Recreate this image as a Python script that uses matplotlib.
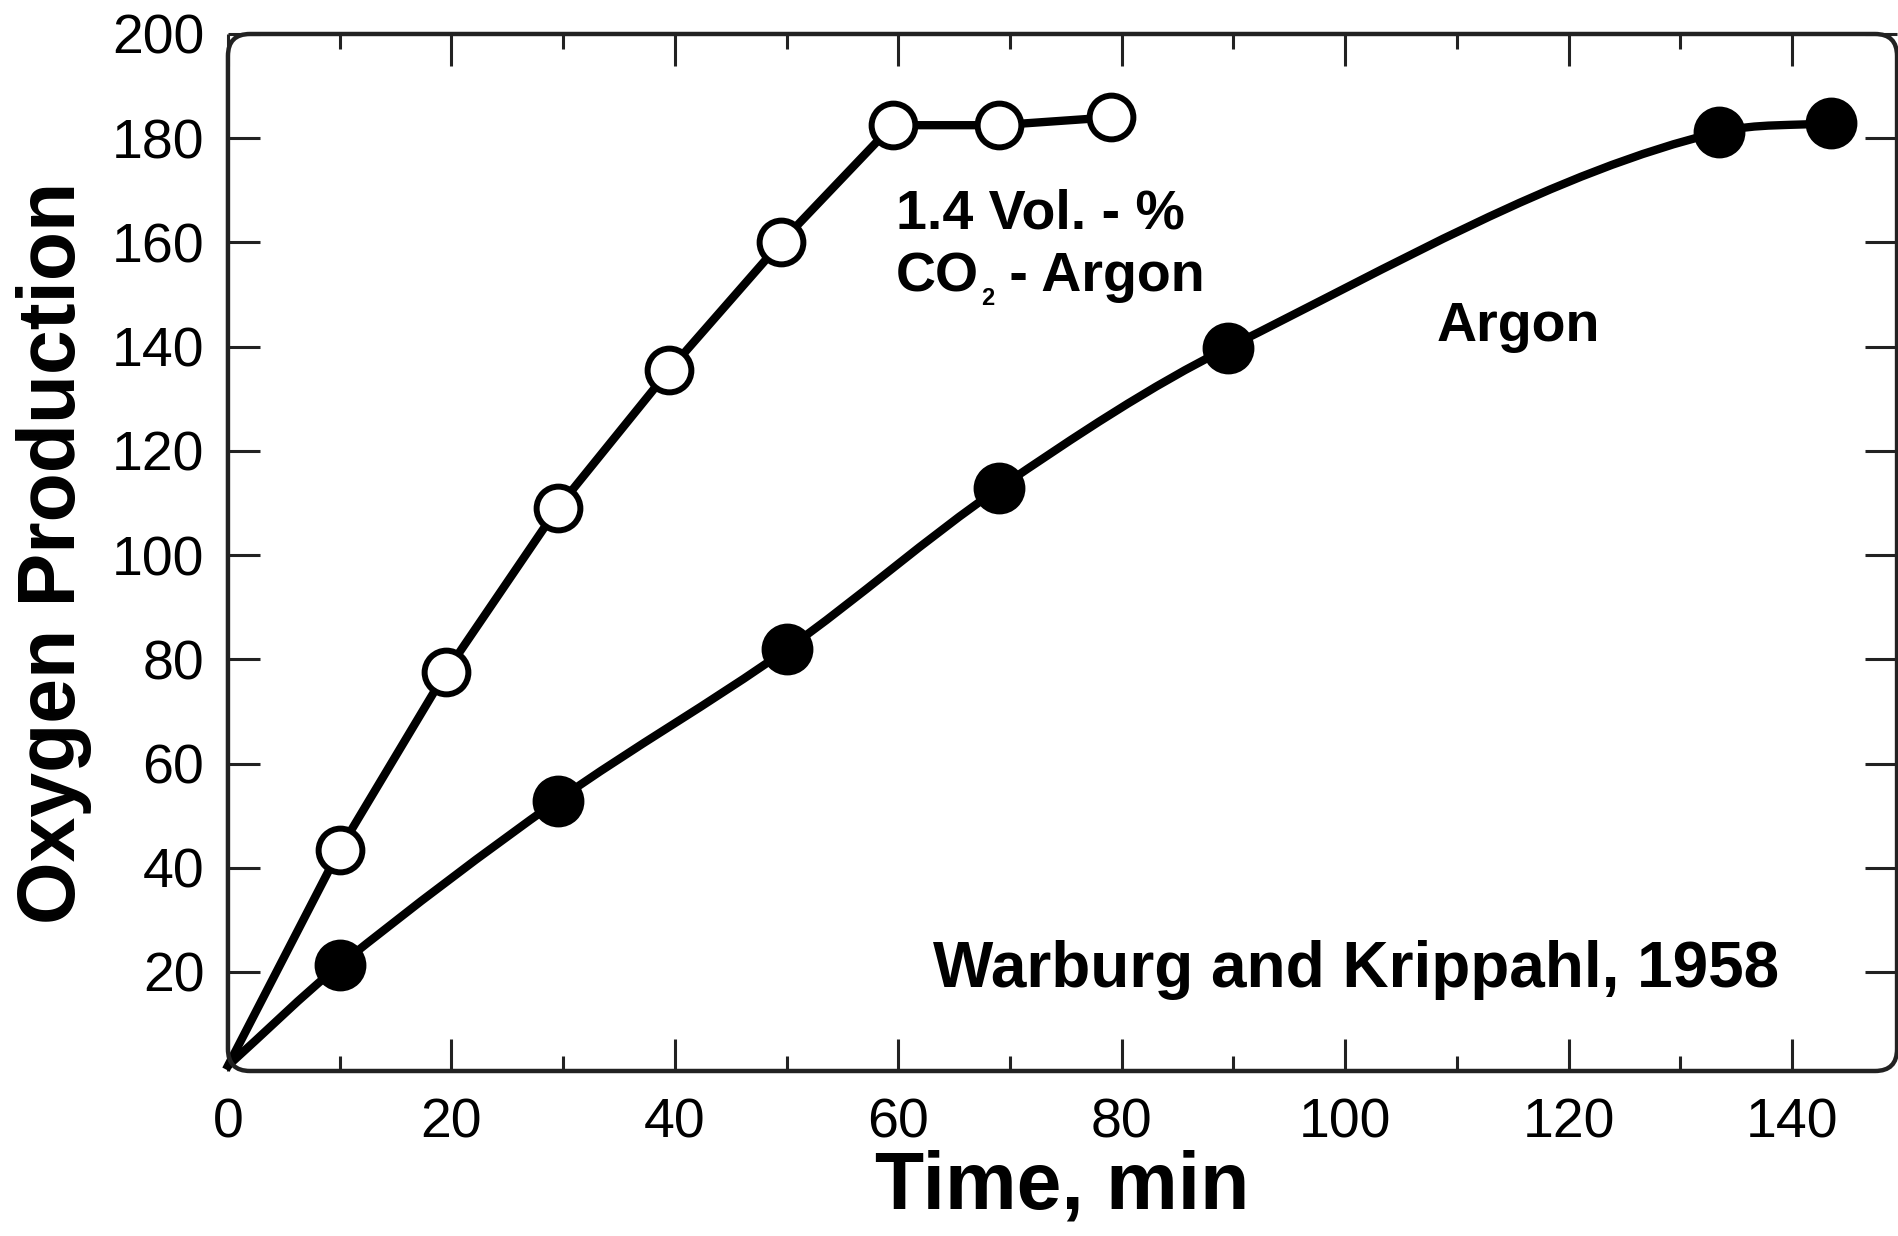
import numpy as np
import matplotlib
matplotlib.use("Agg")
import matplotlib.pyplot as plt
from matplotlib.patches import FancyBboxPatch, PathPatch
from matplotlib.path import Path
from matplotlib.ticker import MultipleLocator

# Warburg and Krippahl, 1958 -- oxygen production vs time
# open circles: 1.4 Vol.-% CO2 in argon
co2_time = [0, 10, 19.5, 29.5, 39.5, 49.5, 59.5, 69, 79]
co2_oxygen = [2, 43.5, 77.5, 109, 135.5, 160, 182.5, 182.5, 184]
# filled circles: argon only
argon_time = [0, 10, 29.5, 50, 69, 89.5, 133.5, 143.5]
argon_oxygen = [2, 21.3, 52.9, 81.9, 112.8, 139.8, 181.2, 182.9]

x_ticks = [0, 20, 40, 60, 80, 100, 120, 140]
y_ticks = [20, 40, 60, 80, 100, 120, 140, 160, 180, 200]

plt.rcParams['font.family'] = ['Liberation Sans', 'DejaVu Sans']


def smooth_path(xs, ys):
    """Cubic hermite curve through the points (central slopes, clipped so
    it does not overshoot), built as bezier segments."""
    x = np.asarray(xs, float)
    y = np.asarray(ys, float)
    h = np.diff(x)
    d = np.diff(y) / h
    m = np.empty_like(y)
    m[0], m[-1] = d[0], d[-1]
    m[1:-1] = (y[2:] - y[:-2]) / (x[2:] - x[:-2])
    # Fritsch-Carlson style limit
    for k in range(len(d)):
        if d[k] == 0:
            m[k] = m[k + 1] = 0.0
            continue
        m[k] = min(m[k], 3 * d[k])
        m[k + 1] = min(m[k + 1], 3 * d[k])
    verts = [(x[0], y[0])]
    codes = [Path.MOVETO]
    for k in range(len(x) - 1):
        verts += [(x[k] + h[k] / 3, y[k] + m[k] * h[k] / 3),
                  (x[k + 1] - h[k] / 3, y[k + 1] - m[k + 1] * h[k] / 3),
                  (x[k + 1], y[k + 1])]
        codes += [Path.CURVE4] * 3
    return Path(verts, codes)


def main():
    fig = plt.figure(figsize=(18.98, 12.36), dpi=100)
    ax = fig.add_axes([0.1201, 0.1335, 0.8794, 0.839])

    # lines start at the origin, markers only on measured points
    ax.plot(co2_time, co2_oxygen, '-', color='black', lw=6,
            solid_joinstyle='round', zorder=3, clip_on=False)
    ax.plot(co2_time[1:], co2_oxygen[1:], 'o', ms=31.5, mfc='white',
            mec='black', mew=4.3, zorder=4, clip_on=False)

    ax.add_patch(PathPatch(smooth_path(argon_time, argon_oxygen),
                           facecolor='none', edgecolor='black', lw=6,
                           zorder=3, clip_on=False))
    ax.plot(argon_time[1:], argon_oxygen[1:], 'o', ms=33, mfc='black',
            mec='black', mew=4.3, zorder=4, clip_on=False)

    ax.set_xlim(0, 149.4)
    ax.set_ylim(1, 200)

    ax.set_xticks(x_ticks)
    ax.set_yticks(y_ticks)
    ax.xaxis.set_minor_locator(MultipleLocator(10))

    ax.tick_params(which='both', direction='in', top=True, right=True,
                   width=2.2, labelsize=40, color='#222222')
    ax.tick_params(axis='x', pad=19)
    ax.tick_params(axis='y', pad=17)
    ax.tick_params(which='major', length=23)
    ax.tick_params(which='minor', length=11)

    # rounded frame instead of the spines
    for sp in ax.spines.values():
        sp.set_visible(False)
    frame = FancyBboxPatch((0, 0), 1, 1, boxstyle='round,pad=0,rounding_size=0.0132',
                           mutation_aspect=1669 / 1037, transform=ax.transAxes,
                           facecolor='none', edgecolor='#222222', lw=3.2,
                           clip_on=False, zorder=5)
    ax.add_patch(frame)

    ax.set_xlabel('Time, min', fontsize=58, fontweight='bold')
    ax.set_ylabel('Oxygen Production', fontsize=58, fontweight='bold')
    ax.xaxis.set_label_coords(0.5, -0.076)
    ax.yaxis.set_label_coords(-0.0815, 0.5)

    ax.text(59.8, 162.6, '1.4 Vol. - %', fontsize=40, fontweight='bold')
    co = ax.text(59.8, 150.6, 'CO', fontsize=40, fontweight='bold')
    sub = ax.annotate('2', xy=(1, 0), xycoords=co, xytext=(1.5, -5),
                      textcoords='offset points', fontsize=17,
                      fontweight='bold', va='bottom')
    ax.annotate(' - Argon', xy=(1, 0), xycoords=sub, xytext=(0, 5),
                textcoords='offset points', fontsize=40, fontweight='bold',
                va='bottom')
    ax.text(108.2, 141.1, 'Argon', fontsize=40, fontweight='bold')
    ax.text(63.1, 17.1, 'Warburg and Krippahl, 1958', fontsize=46,
            fontweight='bold')

    fig.savefig('out.png', dpi=100)


if __name__ == "__main__":
    main()
